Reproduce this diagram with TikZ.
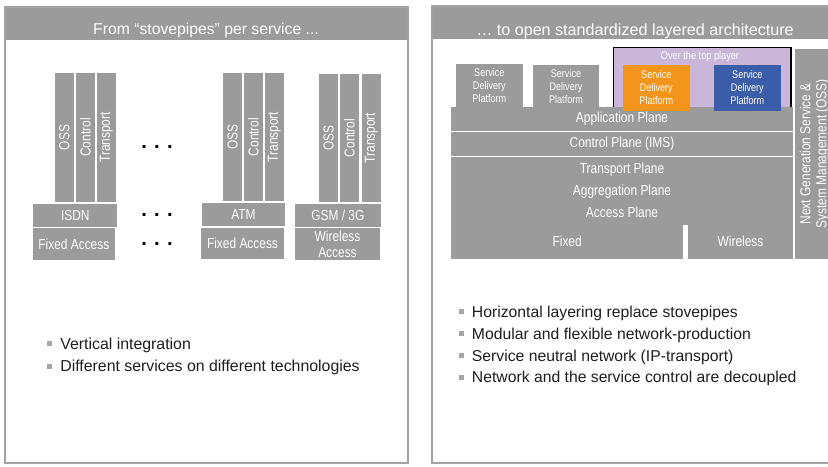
\documentclass[tikz,border=0pt]{standalone}
\usepackage{fontspec}
\setmainfont{Liberation Sans}
\newfontfamily\narrowsans[FakeStretch=0.82]{Liberation Sans}

\definecolor{blockgray}{HTML}{9B9B9B}
\definecolor{framegray}{HTML}{A3A3A3}
\definecolor{ottpurple}{HTML}{C9B6D9}
\definecolor{sdporange}{HTML}{F3951A}
\definecolor{sdpblue}{HTML}{3B5CA8}
\definecolor{bulletgray}{HTML}{A6A6A6}
\definecolor{bodytext}{HTML}{1E1E1E}

% horizontal block: style, name, x1, y1, x2, y2, text
\newcommand\areablock[7]{%
  \node[#1, minimum width={(#5-#3)*0.75pt}, minimum height={(#6-#4)*0.75pt}]
    (#2) at ({(#3+#5)/2},{(#4+#6)/2}) {#7};}
% vertical block with text turned upwards
\newcommand\colblock[7]{%
  \node[#1, rotate=90, minimum width={(#6-#4)*0.75pt}, minimum height={(#5-#3)*0.75pt}]
    (#2) at ({(#3+#5)/2},{(#4+#6)/2}) {#7};}
\newcommand\bulletmark{{\color{bulletgray}\rule[2.4pt]{3.75pt}{3.75pt}}\hspace{6.3pt}}

\begin{document}
\begin{tikzpicture}[x=0.75pt,y=-0.75pt,
  block/.style={fill=blockgray, text=white, inner sep=0pt, outer sep=0pt, align=center,
    font=\narrowsans\fontsize{10.9}{12}\selectfont},
  sdp/.style={block, font=\narrowsans\fontsize{8.3}{9.75}\selectfont},
  planes/.style={block, font=\narrowsans\fontsize{10.9}{16.5}\selectfont},
  header/.style={fill=blockgray, inner sep=0pt, outer sep=0pt},
  frame/.style={draw=framegray, line width=1.5pt},
  headtext/.style={text=white, inner sep=0pt, font=\fontsize{11.8}{14}\selectfont},
  bullettext/.style={text=bodytext, inner sep=0pt, font=\fontsize{11.9}{14}\selectfont},
  dots/.style={text=black, inner sep=0pt, font=\bfseries\fontsize{15}{15}\selectfont}]
\useasboundingbox (0,0) rectangle (828,467);
\clip (0,0) rectangle (828,467);

% ---------- left panel: stovepipes ----------
\areablock{header}{lhead}{4.5}{7}{407.5}{40}{}
\draw[frame] (4.5,7) rectangle (407.5,463);
\node[headtext, anchor=base] (ltitle) at (206,35) {From “stovepipes” per service ...};

% ISDN stack
\colblock{block}{oss1}{54.7}{73.3}{74}{201.7}{OSS}
\colblock{block}{ctl1}{76}{73.3}{94.7}{201.7}{Control}
\colblock{block}{trp1}{96.7}{73.3}{116}{201.7}{Transport}
\areablock{block}{isdn}{33.3}{204}{117.3}{226.7}{ISDN}
\areablock{block}{fixed1}{32.7}{228.3}{115}{260}{Fixed Access}

% ATM stack
\colblock{block}{oss2}{223}{73}{242}{201}{OSS}
\colblock{block}{ctl2}{244}{73}{263}{201}{Control}
\colblock{block}{trp2}{265}{73}{284}{201}{Transport}
\areablock{block}{atm}{202}{203}{285}{226}{ATM}
\areablock{block}{fixed2}{201}{228}{284}{259}{Fixed Access}

% GSM / 3G stack
\colblock{block}{oss3}{319}{74}{338}{202}{OSS}
\colblock{block}{ctl3}{340}{74}{359}{202}{Control}
\colblock{block}{trp3}{362}{74}{381}{202}{Transport}
\areablock{block}{gsm}{295}{204.3}{380.7}{226.7}{GSM / 3G}
\areablock{block}{wless1}{295}{228.3}{380}{260}{Wireless\\Access}

% ellipses between the stacks
\node[dots, anchor=base] (dots1) at (157,148.5) {. . .};
\node[dots, anchor=base] (dots2) at (157,216) {. . .};
\node[dots, anchor=base] (dots3) at (157,245) {. . .};

\node[bullettext, anchor=base west] (lb1) at (46.7,349.3) {\bulletmark Vertical integration};
\node[bullettext, anchor=base west] (lb2) at (46.7,371.7) {\bulletmark Different services on different technologies};

% ---------- right panel: layered architecture ----------
\areablock{header}{rhead}{432}{6}{860}{39}{}
\draw[frame] (432,6) rectangle (860,463);
\node[headtext, font=\fontsize{12.1}{14}\selectfont, anchor=base] (rtitle) at (635,36)
  {… to open standardized layered architecture};

\areablock{block, sdp}{sdp1}{456}{64}{522.7}{107.5}{Service\\Delivery\\Platform}
\areablock{block, sdp}{sdp2}{532.7}{64.7}{599.3}{107.5}{Service\\Delivery\\Platform}

\areablock{draw=black, line width=0.8pt, fill=ottpurple, inner sep=0pt}{ott}{613.3}{47.3}{791}{107.5}{}
\node[text=white, inner sep=0pt, font=\narrowsans\fontsize{8.4}{10}\selectfont] (ottlabel) at (700,56.7) {Over the top player};

\areablock{block}{app}{451}{107}{793}{131}{Application Plane}
\areablock{block}{ctlp}{451}{132}{793}{156}{Control Plane (IMS)}
\areablock{planes}{trpp}{451}{157}{793}{224.5}{Transport Plane\\Aggregation Plane\\Access Plane}
\areablock{block}{fixedp}{451}{224}{683.3}{259}{Fixed}
\areablock{block}{wlessp}{688}{224}{793}{259}{Wireless}

\areablock{sdp, fill=sdporange}{sdp3}{622.7}{65}{690}{110.7}{Service\\Delivery\\Platform}
\areablock{sdp, fill=sdpblue}{sdp4}{714}{65}{780.7}{110.7}{Service\\Delivery\\Platform}

\colblock{block}{ossp}{795}{49}{834}{258.5}{Next Generation Service \&\\System Management (OSS)}

\node[bullettext, font=\fontsize{11.8}{14}\selectfont, anchor=base west] (rb1) at (458.3,317.3) {\bulletmark Horizontal layering replace stovepipes};
\node[bullettext, font=\fontsize{11.8}{14}\selectfont, anchor=base west] (rb2) at (458.3,339.3) {\bulletmark Modular and flexible network-production};
\node[bullettext, font=\fontsize{11.8}{14}\selectfont, anchor=base west] (rb3) at (458.3,361) {\bulletmark Service neutral network (IP-transport)};
\node[bullettext, font=\fontsize{11.8}{14}\selectfont, anchor=base west] (rb4) at (458.3,382.7) {\bulletmark Network and the service control are decoupled};
\end{tikzpicture}
\end{document}
